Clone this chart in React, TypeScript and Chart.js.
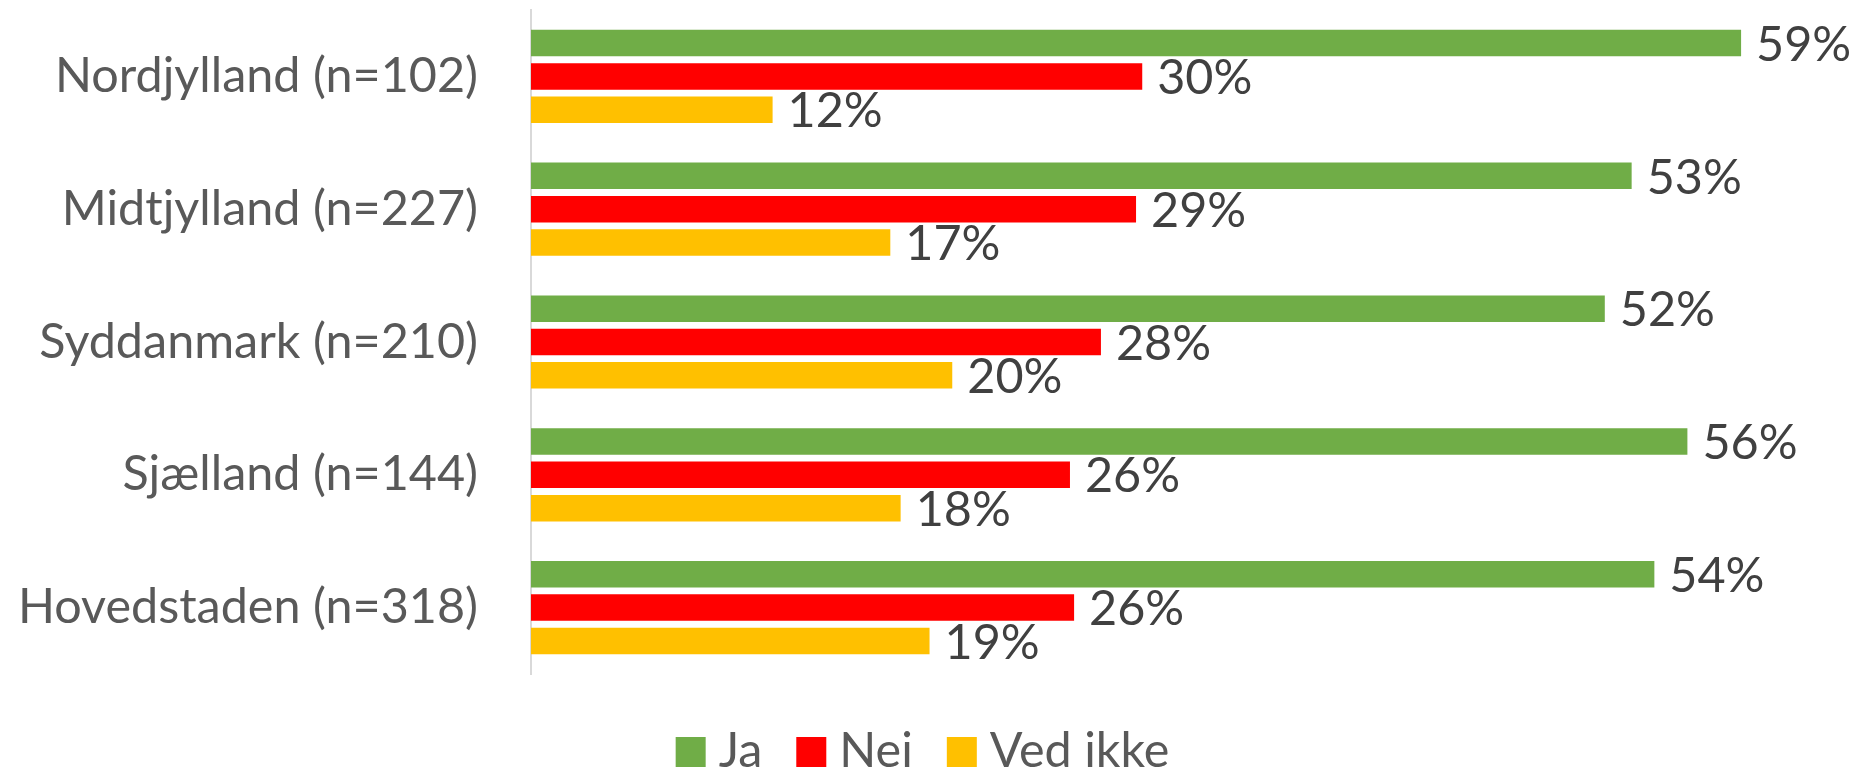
import { useEffect, useRef } from "react";
import { Chart, registerables } from "chart.js";

Chart.register(...registerables);

const categories = [
  "Nordjylland (n=102)",
  "Midtjylland (n=227)",
  "Syddanmark (n=210)",
  "Sjælland (n=144)",
  "Hovedstaden (n=318)",
];
const seriesNames = ["Ja", "Nej", "Ved ikke"];
const jaValues = [58.6, 53.3, 52.0, 56.0, 54.4];
const nejValues = [29.6, 29.3, 27.6, 26.1, 26.3];
const vedIkkeValues = [11.7, 17.4, 20.4, 17.9, 19.3];
const seriesColors = ["#70AD47", "#FF0000", "#FFC000"];

const FONT_FAMILY = "Lato, 'Open Sans', sans-serif";
const FONT_SIZE = 48.5;
const CANVAS_W = 1841;
const CANVAS_H = 767;

const dataLabelPlugin = {
  id: "dataLabels",
  afterDatasetsDraw(chart: any) {
    const ctx = chart.ctx;
    ctx.save();
    ctx.font = `${FONT_SIZE}px ${FONT_FAMILY}`;
    ctx.fillStyle = "#404040";
    ctx.textAlign = "left";
    ctx.textBaseline = "middle";
    chart.data.datasets.forEach((ds: any, i: number) => {
      const meta = chart.getDatasetMeta(i);
      meta.data.forEach((el: any, j: number) => {
        const v = ds.data[j] as number;
        ctx.fillText(`${Math.round(v)}%`, el.x + 15, el.y + 2);
      });
    });
    ctx.restore();
  },
};

const legendPlugin = {
  id: "customLegend",
  afterDraw(chart: any) {
    const ctx = chart.ctx;
    ctx.save();
    ctx.font = `${FONT_SIZE}px ${FONT_FAMILY}`;
    ctx.textAlign = "left";
    ctx.textBaseline = "alphabetic";
    const box = 30;
    const gapText = 13;
    const gapItem = 34;
    const items = chart.data.datasets.map((ds: any) => ({
      text: ds.label as string,
      color: ds.backgroundColor as string,
      w: ctx.measureText(ds.label).width as number,
    }));
    const total =
      items.reduce((s: number, it: any) => s + box + gapText + it.w, 0) +
      gapItem * (items.length - 1);
    let x = 914.5 - total / 2;
    const boxTop = 729;
    const baseline = 758.5;
    items.forEach((it: any) => {
      ctx.fillStyle = it.color;
      ctx.fillRect(x, boxTop, box, box);
      x += box + gapText;
      ctx.fillStyle = "#595959";
      ctx.fillText(it.text, x, baseline);
      x += it.w + gapItem;
    });
    ctx.restore();
  },
};

export default function App() {
  const canvasRef = useRef<HTMLCanvasElement | null>(null);

  useEffect(() => {
    const canvas = canvasRef.current;
    if (!canvas) return;
    const values = [jaValues, nejValues, vedIkkeValues];
    const chart = new Chart(canvas, {
      type: "bar",
      data: {
        labels: categories,
        datasets: seriesNames.map((name, i) => ({
          label: name,
          data: values[i],
          backgroundColor: seriesColors[i],
          borderWidth: 0,
          categoryPercentage: 0.753,
          barPercentage: 0.795,
        })),
      },
      options: {
        indexAxis: "y",
        responsive: false,
        animation: false,
        devicePixelRatio: 1,
        layout: { padding: { left: 0, right: 79, top: 2, bottom: 101 } },
        plugins: {
          legend: { display: false },
          tooltip: { enabled: false },
          title: { display: false },
        },
        scales: {
          x: {
            type: "linear",
            min: 0,
            max: 60,
            display: false,
          },
          y: {
            type: "category",
            position: "left",
            grid: { display: false, drawTicks: false, tickLength: 0 },
            border: { display: true, color: "#D9D9D9", width: 2 },
            ticks: {
              autoSkip: false,
              color: "#595959",
              padding: 53,
              font: { family: FONT_FAMILY, size: FONT_SIZE },
            },
            afterFit: (scale: any) => {
              scale.width = 523;
              scale.paddingTop = 0;
              scale.paddingBottom = 0;
            },
          },
        },
      } as any,
      plugins: [dataLabelPlugin, legendPlugin],
    });
    if ((document as any).fonts && (document as any).fonts.ready) {
      (document as any).fonts.ready.then(() => chart.update());
    }
    return () => chart.destroy();
  }, []);

  return (
    <canvas
      ref={canvasRef}
      width={CANVAS_W}
      height={CANVAS_H}
      style={{
        display: "block",
        width: CANVAS_W,
        height: CANVAS_H,
        marginBottom: -8,
      }}
    />
  );
}
